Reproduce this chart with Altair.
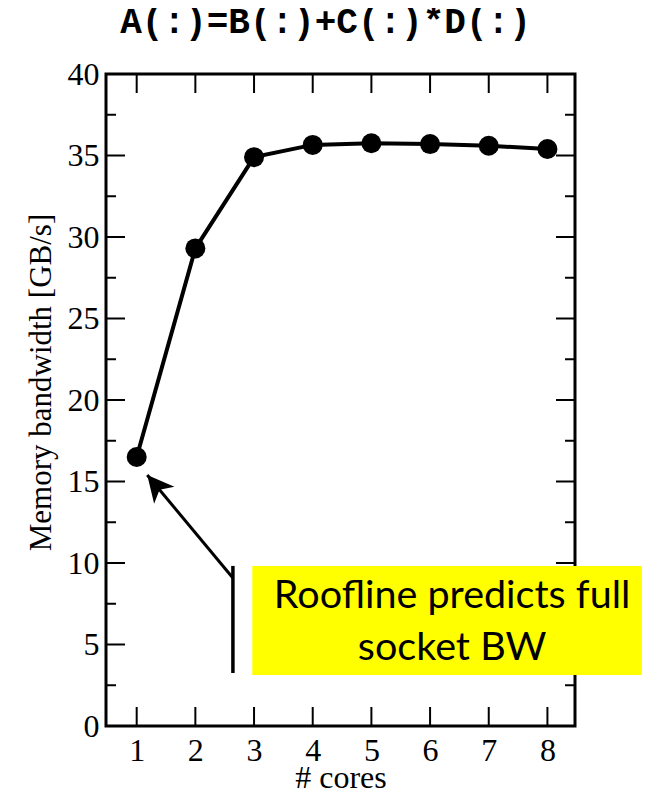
import altair as alt
import pandas as pd

# ---------------- data ----------------
cores = [1, 2, 3, 4, 5, 6, 7, 8]
bandwidth = [16.5, 29.3, 34.9, 35.65, 35.75, 35.7, 35.6, 35.4]

x_tick_values = [1, 2, 3, 4, 5, 6, 7, 8]
y_label_values = [0, 5, 10, 15, 20, 25, 30, 35, 40]
y_major_ticks = [5, 10, 15, 20, 25, 30, 35]
y_minor_ticks = [2.5, 7.5, 12.5, 17.5, 22.5, 27.5, 32.5, 37.5]

title_text = "A(:)=B(:)+C(:)*D(:)"
x_title = "# cores"
y_title = "Memory bandwidth [GB/s]"
note_lines = ["Roofline predicts full", "socket BW"]

# ---------------- layout / annotation geometry (data units) ----------------
W, H = 469, 652
X_DOMAIN = [0.477, 8.47]
Y_DOMAIN = [0, 40]

box = dict(x=2.97, x2=9.8, y=3.13, y2=9.82)
arrow = dict(x=2.64, y=9.08, x2=1.18, y2=15.4)
stem = dict(x=2.64, y=3.25, y2=9.82)
note_x = 6.375
note_y = [7.24, 4.05]

xs = alt.Scale(domain=X_DOMAIN, nice=False, zero=False)
ys = alt.Scale(domain=Y_DOMAIN, nice=False, zero=False)

SERIF = "Liberation Serif"

x_axis = alt.Axis(
    values=x_tick_values, ticks=False, tickSize=0, domain=False, grid=False,
    labelFont=SERIF, labelFontSize=32, labelColor="black", labelPadding=34,
    labelBaseline="alphabetic", labelFlush=False, format="d",
    title=x_title, titleFont=SERIF, titleFontSize=32, titleFontWeight="normal",
    titleColor="black", titleY=61, titleBaseline="alphabetic",
)
y_axis = alt.Axis(
    values=y_label_values, ticks=False, tickSize=0, domain=False, grid=False,
    labelFont=SERIF, labelFontSize=32, labelColor="black", labelPadding=7,
    labelFlush=False, format="d",
    title=y_title, titleFont=SERIF, titleFontSize=31, titleFontWeight="normal",
    titleColor="black", titleX=-65, titleY=308, titleBaseline="middle", titleAngle=270,
)


def X(field):
    return alt.X(field, type="quantitative", scale=xs, axis=x_axis)


def Y(field):
    return alt.Y(field, type="quantitative", scale=ys, axis=y_axis)


df = pd.DataFrame({"cores": cores, "bw": bandwidth})


# ---------------- inward ticks ----------------
def yticks(vals, length, right=False):
    d = pd.DataFrame({"v": vals})
    x0 = W if right else 0
    x1 = W - length if right else length
    return alt.Chart(d).mark_rule(color="black", strokeWidth=2).encode(
        y=Y("v"), x=alt.value(x0), x2=alt.value(x1)
    )


def xticks(vals, length, top=False):
    d = pd.DataFrame({"v": vals})
    y0 = 0 if top else H
    y1 = length if top else H - length
    return alt.Chart(d).mark_rule(color="black", strokeWidth=2).encode(
        x=X("v"), y=alt.value(y0), y2=alt.value(y1)
    )


ticks = [
    yticks(y_major_ticks, 19), yticks(y_minor_ticks, 10),
    yticks(y_major_ticks, 19, right=True), yticks(y_minor_ticks, 10, right=True),
    xticks(x_tick_values, 19), xticks(x_tick_values, 19, top=True),
]

# ---------------- data marks ----------------
line = alt.Chart(df).mark_line(color="black", strokeWidth=4).encode(
    x=X("cores"), y=Y("bw"),
)
points = alt.Chart(df).mark_circle(color="black", size=400, opacity=1).encode(
    x=X("cores"), y=Y("bw"),
)

# ---------------- annotation ----------------
box_df = pd.DataFrame([box])
rect = alt.Chart(box_df).mark_rect(color="#ffff00", opacity=1).encode(
    x=X("x"), x2="x2:Q", y=Y("y"), y2="y2:Q",
)
stem_rule = alt.Chart(pd.DataFrame([stem])).mark_rule(color="black", strokeWidth=3.5).encode(
    x=X("x"), y=Y("y"), y2="y2:Q",
)
arrow_df = pd.DataFrame([arrow])
arrow_rule = alt.Chart(arrow_df).mark_rule(color="black", strokeWidth=3).encode(
    x=X("x"), x2="x2:Q", y=Y("y"), y2="y2:Q",
)
arrow_head = alt.Chart(arrow_df).mark_point(
    shape="M0,0L1,2L0,1.45L-1,2Z", filled=True, size=700, angle=320,
    color="black", opacity=1,
).encode(
    x=X("x2"), y=Y("y2"),
)
note_df = pd.DataFrame({"t": note_lines, "y": note_y, "x": [note_x] * len(note_lines)})
note = alt.Chart(note_df).mark_text(
    font="Lato", fontSize=39.5, align="center", baseline="alphabetic", color="black"
).encode(
    x=X("x"), y=Y("y"), text="t:N",
)

chart = alt.layer(
    *ticks, line, points, rect, stem_rule, arrow_rule, arrow_head, note
).properties(
    width=W, height=H,
    background="white",
    autosize=alt.AutoSizeParams(type="none"),
    padding={"left": 98, "top": 66, "right": 67, "bottom": 63},
    title=alt.Title(
        text=title_text, font="Liberation Mono", fontSize=36, fontWeight="bold",
        color="black", anchor="middle", frame="group", offset=17, dx=-15,
    ),
).configure_view(stroke="black", strokeWidth=3)

chart.save("out.html", embed_options={"renderer": "svg", "actions": False})
